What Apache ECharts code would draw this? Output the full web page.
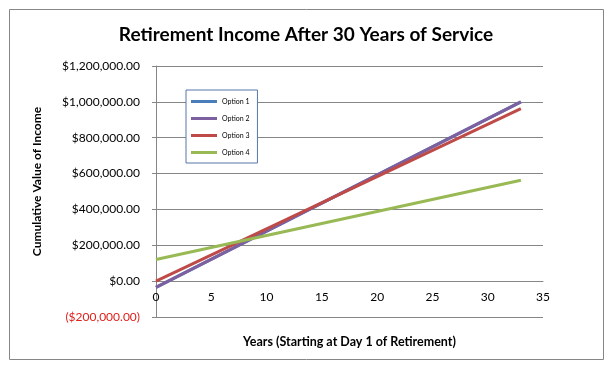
<!DOCTYPE html>
<html>
<head>
<meta charset="utf-8">
<script src="https://cdn.jsdelivr.net/npm/echarts@6/dist/echarts.min.js"></script>
<style>
html,body{margin:0;padding:0;background:#fff;}
#c{width:612px;height:365px;}
</style>
</head>
<body>
<div id="c"></div>
<script>
const titleText = 'Retirement Income After 30 Years of Service';
const xAxisName = 'Years (Starting at Day 1 of Retirement)';
const yAxisName = 'Cumulative Value of Income';
const seriesNames = ['Option 1', 'Option 2', 'Option 3', 'Option 4'];
const years = [0, 33];
const option1 = [-35000, 1000000];
const option2 = [-35000, 1000000];
const option3 = [0, 962000];
const option4 = [121000, 563000];
const colors = ['#4A7EBB', '#7D60A0', '#BE4B48', '#98B954'];

const FONT = 'Lato, "Open Sans", sans-serif';
const allValues = [option1, option2, option3, option4];
const GRID_BOTTOM = 48;
const H = 365;

function fmtMoney(v) {
  const s = '$' + Math.abs(v).toLocaleString('en-US', {minimumFractionDigits: 2, maximumFractionDigits: 2});
  return v < 0 ? '{neg|(' + s + ')}' : s;
}

const chart = echarts.init(document.getElementById('c'), null, {renderer: 'canvas'});
chart.setOption({
  animation: false,
  backgroundColor: '#fff',
  color: colors,
  graphic: [{
    type: 'rect', left: 7, top: 7,
    shape: {width: 594, height: 350},
    style: {fill: 'none', stroke: '#868686', lineWidth: 1}
  }],
  title: {
    text: titleText, left: 'center', top: 20,
    textStyle: {fontFamily: FONT, fontSize: 19, fontWeight: 'bold', color: '#000'}
  },
  legend: {
    orient: 'vertical', left: 186, top: 90,
    padding: [8, 8, 7, 5],
    itemWidth: 26, itemHeight: 8, itemGap: 10,
    icon: 'path://M0,0H26V3H0Z',
    borderColor: '#5677aa', borderWidth: 1,
    backgroundColor: '#fff',
    textStyle: {fontFamily: FONT, fontSize: 7, color: '#000', padding: [0, 6, 0, 0]},
    data: seriesNames
  },
  grid: {left: 156, right: 69, top: 66, bottom: GRID_BOTTOM, containLabel: false, outerBoundsMode: 'none'},
  xAxis: {
    type: 'value', min: 0, max: 35, interval: 5,
    name: xAxisName, nameLocation: 'middle', nameGap: 54,
    nameTextStyle: {fontFamily: FONT, fontSize: 12.5, fontWeight: 'bold', color: '#000'},
    axisLine: {onZero: false, lineStyle: {color: '#868686', width: 1}},
    axisTick: {show: false},
    splitLine: {show: false},
    axisLabel: {fontFamily: FONT, fontSize: 12, color: '#000', margin: 10}
  },
  yAxis: {
    type: 'value', min: -200000, max: 1200000, interval: 200000,
    name: yAxisName, nameLocation: 'middle', nameGap: 113, nameRotate: 90,
    nameTextStyle: {fontFamily: FONT, fontSize: 12, fontWeight: 'bold', color: '#000', padding: [0, 0, 0, 20]},
    axisLine: {show: true, onZero: false, lineStyle: {color: '#868686', width: 1}},
    axisTick: {show: true, length: 4, lineStyle: {color: '#868686'}},
    splitLine: {show: true, lineStyle: {color: '#868686', width: 1}},
    axisLabel: {
      fontFamily: FONT, fontSize: 12, color: '#000', margin: 16,
      formatter: fmtMoney,
      rich: {neg: {color: '#E0201C', fontFamily: FONT, fontSize: 12}}
    }
  },
  series: seriesNames.map((n, i) => ({
    name: n, type: 'line', symbol: 'none', z: 2 + i,
    lineStyle: {width: 3, color: colors[i]},
    itemStyle: {color: colors[i]},
    data: years.map((y, j) => [y, allValues[i][j]])
  }))
});
// place the x axis line at the y = 0 value, using the library's own scale
const zeroPx = chart.convertToPixel({yAxisIndex: 0}, 0);
const xOffset = zeroPx - (H - GRID_BOTTOM);
chart.setOption({xAxis: {offset: xOffset, nameGap: 54}});
</script>
</body>
</html>
